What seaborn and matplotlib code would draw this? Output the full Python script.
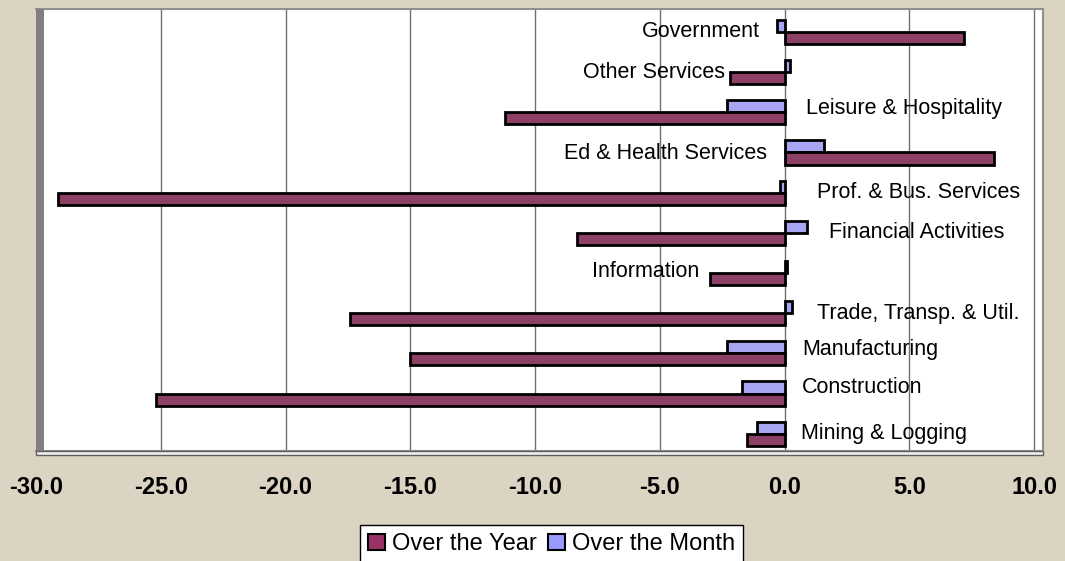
import matplotlib
matplotlib.use("Agg")
import matplotlib.pyplot as plt
from matplotlib.patches import Patch, Rectangle
import pandas as pd
import seaborn as sns

# sectors from top to bottom of the chart
sectors = ['Government', 'Other Services', 'Leisure & Hospitality', 'Ed & Health Services',
           'Prof. & Bus. Services', 'Financial Activities', 'Information',
           'Trade, Transp. & Util.', 'Manufacturing', 'Construction', 'Mining & Logging']
over_year = [7.2, -2.2, -11.2, 8.4, -29.1, -8.3, -3.0, -17.4, -15.0, -25.2, -1.5]
over_month = [-0.3, 0.2, -2.3, 1.6, -0.2, 0.9, 0.1, 0.3, -2.3, -1.7, -1.1]
series_names = ['Over the Year', 'Over the Month']
x_ticks = [-30, -25, -20, -15, -10, -5, 0, 5, 10]

# where the sector names sit next to the bars
label_x = [-1.0, -2.4, 0.85, -0.7, 1.3, 1.8, -3.4, 1.3, 0.7, 0.7, 0.65]
label_ha = ['right', 'right', 'left', 'right', 'left', 'left', 'right', 'left', 'left', 'left', 'left']
label_dy = [0, 0, -0.1, 0.03, 0, 0, -0.04, 0, -0.1, -0.14, 0]

colors = {'Over the Year': '#993366', 'Over the Month': '#9999FF'}

df = pd.DataFrame({
    'sector': sectors * 2,
    'value': over_year + over_month,
    'series': [series_names[0]] * len(sectors) + [series_names[1]] * len(sectors),
})

sns.set_style('white')
plt.rcParams['font.family'] = ['Liberation Sans', 'DejaVu Sans']
plt.rcParams['text.color'] = 'black'
plt.rcParams['xtick.color'] = 'black'

fig = plt.figure(figsize=(10.65, 5.61), dpi=100, facecolor='#DCD4C2')
ax = fig.add_axes([36 / 1065, 1 - 451 / 561, (1043 - 36) / 1065, (451 - 9) / 561])
ax.set_facecolor('white')

sns.barplot(data=df, x='value', y='sector', hue='series', order=sectors,
            hue_order=['Over the Month', 'Over the Year'], palette=colors,
            orient='h', width=0.6, edgecolor='black', linewidth=2,
            legend=False, ax=ax)

ax.set_xlim(-30, 10.36)
ax.set_ylim(10.43, -0.57)
ax.set_xticks(x_ticks)
ax.set_xticklabels([f'{t:.1f}' for t in x_ticks], fontsize=17, fontweight='bold', color='black')
ax.tick_params(axis='x', direction='out', length=5, width=1, color='#404040', pad=13)
ax.set_yticks([])
ax.set_xlabel('')
ax.set_ylabel('')
ax.grid(axis='x', color='#707070', linewidth=1)
ax.set_axisbelow(True)

for side in ['top', 'right', 'bottom']:
    ax.spines[side].set_color('#909090')
    ax.spines[side].set_linewidth(1.5)
ax.spines['left'].set_visible(False)

# grey side wall and floor for the 3-d look
ax.add_patch(Rectangle((0, 0), 8 / 1007, 1, transform=ax.transAxes,
                       facecolor='#808080', edgecolor='none', zorder=3, clip_on=False))
ax.add_patch(Rectangle((0, -4 / 442), 1, 4 / 442, transform=ax.transAxes,
                       facecolor='#F0F0F0', edgecolor='#606060', linewidth=1,
                       zorder=3, clip_on=False))

for i, name in enumerate(sectors):
    ax.text(label_x[i], i + label_dy[i], name, ha=label_ha[i], va='center',
            fontsize=15.5, color='black', zorder=5)

handles = [Patch(facecolor=colors[s], edgecolor='black', linewidth=1.5) for s in series_names]
leg = fig.legend(handles, series_names, loc='upper center', bbox_to_anchor=(0.518, 0.064),
                 ncol=2, fontsize=17, frameon=True, fancybox=False, framealpha=1,
                 edgecolor='black', handlelength=0.7, handleheight=0.7,
                 handletextpad=0.3, columnspacing=0.5, borderpad=0.35, borderaxespad=0)
leg.get_frame().set_linewidth(1)
for t in leg.get_texts():
    t.set_color('black')

fig.savefig('out.png', dpi=100, facecolor=fig.get_facecolor())
